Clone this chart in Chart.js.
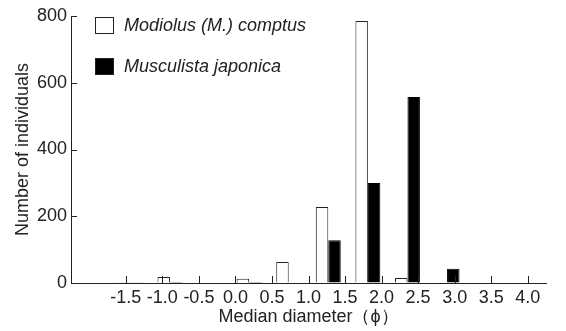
<!DOCTYPE html>
<html>
<head>
<meta charset="utf-8">
<script src="https://cdn.jsdelivr.net/npm/chart.js@4.4.0/dist/chart.umd.min.js"></script>
<style>
  html, body { margin: 0; padding: 0; background: #fff; }
  #wrap { position: relative; width: 566px; height: 331px; font-family: "Liberation Sans", Arial, sans-serif; color: #222; }
  canvas { position: absolute; left: 0; top: 0; }
  .key { position: absolute; left: 95px; display: flex; align-items: center; font-style: italic; font-size: 18px; }
  .key .box { width: 17px; height: 15px; border: 1px solid #222; margin-right: 10px; }
</style>
</head>
<body>
<div id="wrap">
  <canvas id="chart" width="566" height="331"></canvas>
  <div class="key" style="top:15px"><span class="box" style="background:#fff"></span>Modiolus (M.) comptus</div>
  <div class="key" style="top:56px"><span class="box" style="background:#000"></span>Musculista japonica</div>
</div>
<script>
// bins of median diameter (phi), lower bound of each 0.5 class
const bins = ['-2.0', '-1.5', '-1.0', '-0.5', '0.0', '0.5', '1.0', '1.5', '2.0', '2.5', '3.0', '3.5'];
const modiolus = [0, 2, 18, 0, 13, 63, 228, 785, 15, 0, 0, 0];
const musculista = [0, 2, 3, 0, 3, 0, 128, 300, 557, 43, 0, 0];
const xMin = -2, xMax = 4, xStep = 0.5;
const yMax = 800, yStep = 200;

const ink = '#222';
const font = { family: '"Liberation Sans", Arial, sans-serif', size: 18 };

// ticks pointing into the plot, like the original figure
const innerTicks = {
    id: 'innerTicks',
    afterDraw(chart) {
        const ctx = chart.ctx;
        const xs = chart.scales.x2, ys = chart.scales.y;
        const area = chart.chartArea;
        ctx.save();
        ctx.strokeStyle = ink;
        ctx.lineWidth = 1;
        ctx.beginPath();
        xs.ticks.forEach(t => {
            if (t.value <= xMin) return;
            const px = Math.round(xs.getPixelForValue(t.value)) + 0.5;
            ctx.moveTo(px, area.bottom);
            ctx.lineTo(px, area.bottom - 7);
        });
        ys.ticks.forEach(t => {
            if (t.value <= 0) return;
            const py = Math.round(ys.getPixelForValue(t.value)) + 0.5;
            ctx.moveTo(area.left, py);
            ctx.lineTo(area.left + 6, py);
        });
        ctx.stroke();
        ctx.restore();
    }
};

new Chart(document.getElementById('chart'), {
    type: 'bar',
    data: {
        labels: bins,
        datasets: [
            { label: 'Modiolus (M.) comptus', data: modiolus, backgroundColor: '#fff', borderColor: ink, borderWidth: 1 },
            { label: 'Musculista japonica', data: musculista, backgroundColor: '#000', borderColor: '#000', borderWidth: 1 }
        ]
    },
    options: {
        responsive: false,
        animation: false,
        categoryPercentage: 0.63,
        barPercentage: 1.0,
        layout: { padding: { left: 0, right: 20, top: 16, bottom: 0 } },
        plugins: { legend: { display: false }, tooltip: { enabled: false } },
        scales: {
            x: { display: false },
            x2: {
                type: 'linear',
                position: 'bottom',
                min: xMin, max: xMax,
                afterFit(s) { s.height = 48; },
                ticks: {
                    stepSize: xStep,
                    color: ink, font: font, padding: 4, maxRotation: 0, autoSkip: false,
                    callback: v => v <= xMin ? '' : v.toFixed(1)
                },
                grid: { drawOnChartArea: false, drawTicks: false },
                border: { display: true, color: ink, width: 1 },
                title: { display: true, text: 'Median diameter（ϕ）', color: ink,
                         font: { family: font.family, size: 18 }, padding: { top: 0, bottom: 3 } }
            },
            y: {
                min: 0, max: yMax,
                afterFit(s) { s.width = 71; },
                ticks: { stepSize: yStep, color: ink, font: font, padding: 4 },
                grid: { drawOnChartArea: false, drawTicks: false },
                border: { display: true, color: ink, width: 1 },
                title: { display: true, text: 'Number of individuals', color: ink,
                         font: { family: font.family, size: 18 }, padding: { top: 12, bottom: 0 } }
            }
        }
    },
    plugins: [innerTicks]
});
</script>
</body>
</html>
